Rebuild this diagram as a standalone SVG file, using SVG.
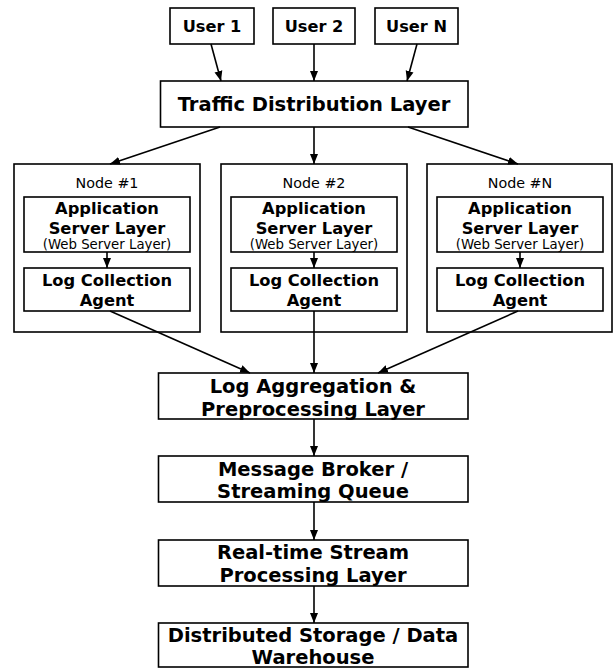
<svg xmlns="http://www.w3.org/2000/svg" width="613" height="668" viewBox="0 0 613 668">
<style>
rect{fill:#fff;stroke:#000;stroke-width:1.6}
.c line{stroke:#000;stroke-width:1.6}
text{font-family:"DejaVu Sans",sans-serif;text-anchor:middle;fill:#000}
.b{font-weight:bold}
.u{font-size:16.2px}
.l{font-size:19.5px}
.a{font-size:16.3px}
.n{font-size:14.3px}
.s{font-size:13.3px}
</style>
<defs>
<marker id="ar" viewBox="0 0 10 10" refX="10" refY="5" markerWidth="10" markerHeight="10" markerUnits="userSpaceOnUse" orient="auto">
<path d="M0,1 L10,5 L0,9 z" fill="#000"/>
</marker>
</defs>
<rect x="0" y="0" width="613" height="668" style="stroke:none"/>
<g id="user1"><rect x="170" y="8" width="84" height="36"/><text class="b u" x="212" y="32">User 1</text></g>
<g id="user2"><rect x="273" y="8" width="82" height="36"/><text class="b u" x="314" y="32">User 2</text></g>
<g id="userN"><rect x="375" y="8" width="83" height="36"/><text class="b u" x="416.5" y="32">User N</text></g>
<g id="traffic"><rect x="160.5" y="81" width="307.5" height="46"/><text class="b l" x="314" y="111">Traffic Distribution Layer</text></g>
<g id="node1">
<rect x="14" y="164" width="186" height="168"/>
<text class="n" x="107" y="188">Node #1</text>
<rect x="24" y="197" width="166" height="55"/>
<text class="b a" x="107" y="214">Application</text>
<text class="b a" x="107" y="234">Server Layer</text>
<text class="s" x="107" y="249">(Web Server Layer)</text>
<rect x="24" y="268" width="166" height="43"/>
<text class="b a" x="107" y="286">Log Collection</text>
<text class="b a" x="107" y="306">Agent</text>
</g>
<g id="node2">
<rect x="221" y="164" width="186" height="168"/>
<text class="n" x="314" y="188">Node #2</text>
<rect x="231" y="197" width="166" height="55"/>
<text class="b a" x="314" y="214">Application</text>
<text class="b a" x="314" y="234">Server Layer</text>
<text class="s" x="314" y="249">(Web Server Layer)</text>
<rect x="231" y="268" width="166" height="43"/>
<text class="b a" x="314" y="286">Log Collection</text>
<text class="b a" x="314" y="306">Agent</text>
</g>
<g id="nodeN">
<rect x="427" y="164" width="185" height="168"/>
<text class="n" x="520" y="188">Node #N</text>
<rect x="437" y="197" width="166" height="55"/>
<text class="b a" x="520" y="214">Application</text>
<text class="b a" x="520" y="234">Server Layer</text>
<text class="s" x="520" y="249">(Web Server Layer)</text>
<rect x="437" y="268" width="166" height="43"/>
<text class="b a" x="520" y="286">Log Collection</text>
<text class="b a" x="520" y="306">Agent</text>
</g>
<g id="aggregation"><rect x="158.5" y="373" width="309.5" height="46"/><text class="b l" x="313" y="393">Log Aggregation &amp;</text><text class="b l" x="313" y="416">Preprocessing Layer</text></g>
<g id="broker"><rect x="158.5" y="456" width="309.5" height="46"/><text class="b l" x="313" y="476">Message Broker /</text><text class="b l" x="313" y="498">Streaming Queue</text></g>
<g id="stream"><rect x="158.5" y="540" width="309.5" height="46"/><text class="b l" x="313" y="559">Real-time Stream</text><text class="b l" x="313" y="582">Processing Layer</text></g>
<g id="storage"><rect x="158.5" y="623" width="309.5" height="44"/><text class="b l" x="313" y="642">Distributed Storage / Data</text><text class="b l" x="313" y="664">Warehouse</text></g>
<g class="c" id="connectors">
<line x1="211" y1="44" x2="221" y2="81" marker-end="url(#ar)"/>
<line x1="314" y1="44" x2="314" y2="81" marker-end="url(#ar)"/>
<line x1="417" y1="44" x2="407" y2="81" marker-end="url(#ar)"/>
<line x1="220" y1="127" x2="110" y2="164" marker-end="url(#ar)"/>
<line x1="314" y1="127" x2="314" y2="164" marker-end="url(#ar)"/>
<line x1="408" y1="127" x2="518" y2="164" marker-end="url(#ar)"/>
<line x1="107" y1="252" x2="107" y2="268" marker-end="url(#ar)"/>
<line x1="314" y1="252" x2="314" y2="268" marker-end="url(#ar)"/>
<line x1="520" y1="252" x2="520" y2="268" marker-end="url(#ar)"/>
<line x1="110" y1="311" x2="250" y2="373" marker-end="url(#ar)"/>
<line x1="314" y1="311" x2="314" y2="373" marker-end="url(#ar)"/>
<line x1="518" y1="311" x2="378" y2="373" marker-end="url(#ar)"/>
<line x1="314" y1="419" x2="314" y2="456" marker-end="url(#ar)"/>
<line x1="314" y1="502" x2="314" y2="540" marker-end="url(#ar)"/>
<line x1="314" y1="586" x2="314" y2="623" marker-end="url(#ar)"/>
</g>
</svg>
